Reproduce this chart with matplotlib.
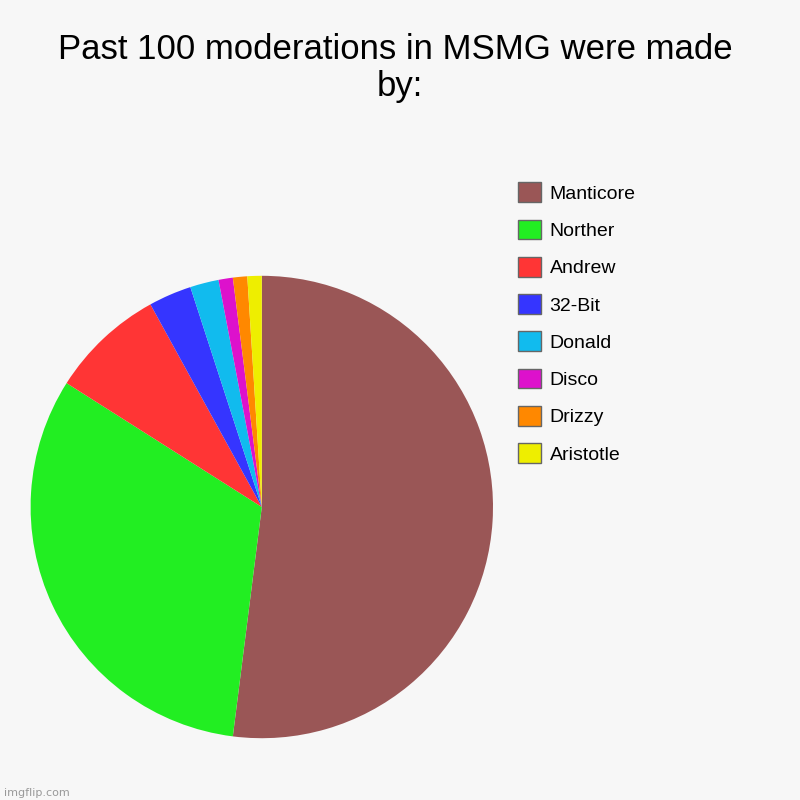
import matplotlib
matplotlib.use("Agg")
import matplotlib.pyplot as plt
from matplotlib.patches import Patch

names = ["Manticore", "Norther", "Andrew", "32-Bit", "Donald", "Disco", "Drizzy", "Aristotle"]
counts = [52, 32, 8, 3, 2, 1, 1, 1]
colors = ["#9a5656", "#22ee22", "#ff3535", "#3535ff", "#11bbee", "#dd11cc", "#ff8800", "#eeee00"]

fig = plt.figure(figsize=(8, 8), dpi=100, facecolor="#f7f7f7")
ax = fig.add_axes([-0.034, 0.005, 0.7225, 0.7225])
ax.pie(counts, colors=colors, startangle=90, counterclock=False)
ax.set_aspect("equal")

fig.text(0.5, 0.915, "Past 100 moderations in MSMG were made \nby:",
         ha="center", va="center", fontsize=25, family="Liberation Sans", linespacing=1.15)

handles = [Patch(facecolor=c, edgecolor="#666666", label=n) for n, c in zip(names, colors)]
fig.legend(handles=handles, loc="upper left", bbox_to_anchor=(0.625, 0.794),
           frameon=False, handlelength=1.2, handleheight=1.2, handletextpad=0.45,
           labelspacing=0.86, prop={"family": "Liberation Sans", "size": 14})

fig.text(0.005, 0.005, "imgflip.com", fontsize=8, color="#999999")
fig.savefig("out.png", dpi=100, facecolor=fig.get_facecolor())
